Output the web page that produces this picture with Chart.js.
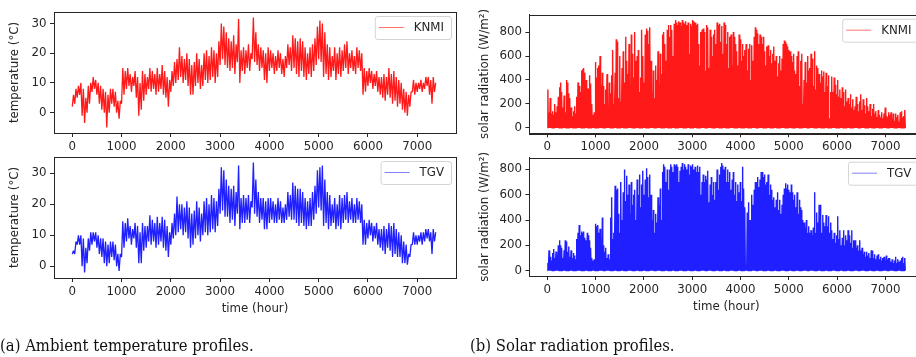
<!DOCTYPE html>
<html>
<head>
<meta charset="utf-8">
<script src="https://cdn.jsdelivr.net/npm/chart.js@4.4.1/dist/chart.umd.min.js"></script>
<style>
  html, body { margin: 0; padding: 0; background: #fff; width: 916px; height: 357px; overflow: hidden; position: relative; }
  canvas.panel { position: absolute; left: 0; top: 0; }
  .cap { position: absolute; top: 336px; font: 16.5px "DejaVu Serif Condensed", "DejaVu Serif", serif; line-height: 20px; color: #111; white-space: nowrap; }
</style>
</head>
<body>
<canvas class="panel" id="tempKnmi" width="940" height="357"></canvas>
<canvas class="panel" id="tempTgv" width="940" height="357"></canvas>
<canvas class="panel" id="solarKnmi" width="940" height="357"></canvas>
<canvas class="panel" id="solarTgv" width="940" height="357"></canvas>
<div class="cap" style="left:0">(a) Ambient temperature profiles.</div>
<div class="cap" style="left:470px">(b) Solar radiation profiles.</div>

<script>
/* Weather profiles: hourly temperature and solar radiation, KNMI vs TGV.
   Values: temperature as low/high per
   50-hour block, solar radiation as the midday peak of each day. */

const HOURS = 7416;          // length of the hourly series
const TEMP_STEP = 50;        // hours per temperature block
const DAY = 24;

const X_TICKS = [0, 1000, 2000, 3000, 4000, 5000, 6000, 7000];
const TEMP_TICKS = [0, 10, 20, 30];
const SOLAR_TICKS = [0, 200, 400, 600, 800];

// ---- temperature (°C), one value per 50 h block ----
const tempKnmiLow = [
  2, 3, 5, 6, -1, -3.5, 0, 3, 7, 8, 6, 3, 1, 0, -5, 0, 3, 2, 0, -2,
  3, 6, 8, 9, 7, 9, 5, -1, 1, 4, 6, 8, 7, 8, 6, 7, 8, 6, 5, 2,
  7, 9, 10, 11, 12, 10, 11, 9, 6, 6, 9, 10, 8, 9, 11, 10, 11, 12, 10, 12,
  16, 18, 16, 15, 14, 15, 13, 17, 10, 14, 13, 15, 14, 18, 17, 16, 14, 15, 11, 10,
  14, 15, 13, 14, 15, 13, 12, 15, 16, 14, 15, 13, 12, 14, 12, 11, 13, 12, 14, 16,
  18, 17, 12, 13, 11, 12, 14, 11, 13, 12, 14, 15, 13, 15, 14, 13, 15, 14, 6, 7,
  9, 10, 8, 9, 7, 6, 5, 4, 6, 5, 3, 4, 2, 3, 1, 0, -1, 2, 7, 6,
  7, 8, 7, 8, 9, 6, 3, 7
];
const tempKnmiHigh = [
  6, 8, 9, 10, 8, 5, 9, 10, 12, 11, 10, 9, 8, 7, 6, 8, 8, 7, 4, 4,
  15, 14, 15, 13, 12, 14, 12, 10, 14, 13, 12, 15, 14, 13, 15, 13, 16, 14, 12, 11,
  14, 17, 18, 22, 19, 18, 20, 18, 16, 17, 20, 18, 16, 20, 21, 19, 22, 21, 20, 24,
  30, 29, 27, 25, 24, 26, 23, 31.5, 21, 22, 21, 23, 20, 32, 27, 23, 22, 21, 20, 22,
  21, 20, 19, 21, 20, 18, 19, 23, 22, 26, 25, 24, 25, 24, 22, 20, 22, 23, 25, 29,
  31, 30, 27, 23, 22, 19, 22, 20, 22, 21, 23, 24, 20, 21, 19, 22, 21, 20, 15, 14,
  15, 14, 13, 14, 12, 12, 13, 12, 15, 13, 14, 12, 11, 10, 8, 7, 6, 7, 11, 10,
  10, 11, 10, 12, 12, 11, 12, 10
];
const tempTgvLow = [
  4, 4, 7, 7, 0, -2, 1, 5, 7, 8, 6, 4, 3, 1, 0, 1, 3, 2, 0, -1.5,
  3, 6, 8, 9, 7, 9, 6, 1, 1, 5, 6, 8, 7, 8, 6, 7, 8, 6, 5, 3,
  7, 9, 10, 11, 12, 10, 11, 9, 6, 7, 9, 10, 8, 10, 11, 10, 11, 12, 11, 13,
  17, 18, 16, 16, 14, 15, 13, 17, 12, 14, 14, 15, 14, 19, 17, 16, 14, 15, 12, 12,
  14, 15, 14, 14, 15, 14, 14, 15, 16, 15, 15, 14, 13, 14, 13, 12, 13, 13, 15, 17,
  19, 18, 13, 14, 12, 13, 14, 12, 13, 12, 14, 15, 14, 15, 14, 14, 15, 14, 7, 7,
  9, 10, 8, 9, 7, 6, 5, 4, 6, 5, 3, 4, 3, 3, 1, 1, 0.5, 3, 7, 7,
  7, 8, 7, 8, 9, 8, 4, 8
];
const tempTgvHigh = [
  5, 8, 10, 10, 9, 6, 9, 11, 11, 11, 10, 9, 9, 8, 7, 8, 8, 7, 4, 4,
  14.5, 14, 15.5, 13, 12, 14, 13, 11, 14, 13, 13, 16.5, 15, 14, 16, 14, 16, 15, 13, 11,
  14, 17, 22.5, 20, 20, 19, 21, 19, 17, 18, 21, 19, 17, 21, 22, 20, 23, 22, 21, 25,
  32, 31, 28, 26, 25, 26, 24, 32.5, 22, 23, 22, 23, 21, 33.5, 28, 24, 22, 22, 21, 22,
  22, 21, 20, 22, 21, 19, 20, 24, 23, 27, 26, 25, 25, 24, 22, 21, 22, 24, 26, 31,
  32, 32.5, 28, 24, 23, 20, 22, 20, 23, 22, 23, 24, 21, 22, 20, 22, 21, 20, 15, 14,
  15, 14, 13, 14, 12, 12, 13, 12, 14, 13, 14, 12, 11, 10, 8, 7, 4, 7, 11, 10,
  10, 11, 11, 12, 12, 11, 12, 11
];

// ---- solar radiation (W/m2), daily peak ----
const solarKnmiPeak = [
  320, 130, 250, 120, 140,  110, 200, 130, 180, 260,  340, 380, 300, 170, 270,  130, 400, 380, 290, 250,
  170, 100, 140, 180, 120,  260, 380, 350, 300, 480,  490, 500, 460, 400, 330,  330, 440, 370, 200, 110,
  130, 550, 420, 500, 520,  600, 360, 460, 350, 200,  320, 450, 150, 380, 290,  440, 650, 200, 460, 740,
  720, 250, 600, 220, 500,  640, 380, 760, 560, 450,  700, 300, 780, 620, 420,  800, 560, 600, 650, 300,
  420, 820, 600, 380, 780,  830, 810, 700, 840, 560,  300, 480, 250, 520, 400,  640, 360, 620, 450, 780,
  800, 700, 560, 820, 860,  760, 860, 820, 600, 870,  900, 880, 860, 890, 880,  850, 900, 880, 870, 890,
  860, 880, 620, 870, 850,  900, 890, 880, 860, 870,  700, 520, 800, 820, 830,  800, 480, 860, 840, 500,
  820, 760, 600, 780, 820,  700, 880, 860, 870, 720,  850, 620, 880, 860, 700,  800, 500, 760, 780, 520,
  800, 760, 700, 640, 520,  780, 740, 560, 700, 600,  650, 700, 480, 660, 700,  400, 690, 560, 760, 840,
  820, 790, 700, 780, 760,  700, 760, 640, 520, 680,  690, 600, 650, 540, 620,  680, 560, 600, 430, 540,
  600, 480, 580, 700, 730,  720, 700, 680, 650, 640,  600, 550, 620, 480, 450,  600, 640, 350, 560, 620,
  200, 400, 550, 380, 600,  480, 500, 620, 580, 350,  640, 320, 520, 500, 450,  380, 480, 430, 470, 300,
  460, 350, 440, 80, 300,   430, 300, 420, 360, 280,  400, 260, 320, 250, 340,  300, 180, 320, 220, 250,
  200, 280, 170, 240, 150,  180, 260, 200, 140, 220,  280, 150, 240, 190, 120,  250, 180, 140, 200, 100,
  160, 200, 120, 140, 90,   150, 110, 90, 130, 80,    120, 170, 100, 90, 130,   110, 130, 80, 120, 60,
  120, 90, 110, 50, 130,    140, 90, 100, 150
];
const solarTgvPeak = [
  60, 160, 110, 80, 140,    170, 100, 150, 120, 200,  240, 200, 180, 100, 160,  240, 230, 150, 190, 110,
  160, 100, 140, 120, 90,   250, 300, 360, 280, 310,  300, 310, 260, 240, 300,  280, 240, 180, 100, 80,
  90, 370, 350, 360, 300,   330, 250, 420, 200, 150,  180, 100, 130, 90, 420,   580, 250, 300, 670, 640,
  650, 450, 300, 700, 400,  620, 800, 550, 750, 600,  680, 450, 700, 520, 600,  640, 400, 720, 600, 760,
  500, 680, 790, 600, 720,  810, 740, 580, 760, 600,  400, 480, 300, 450, 380,  580, 520, 650, 400, 780,
  840, 820, 700, 800, 640,  800, 840, 820, 780, 840,  830, 840, 820, 700, 790,  820, 850, 800, 840, 820,
  800, 840, 760, 830, 820,  840, 800, 820, 780, 830,  780, 820, 600, 700, 760,  700, 750, 720, 790, 540,
  680, 740, 600, 700, 560,  700, 800, 640, 760, 820,  850, 830, 800, 820, 700,  800, 700, 780, 640, 720,
  780, 600, 700, 550, 680,  620, 700, 550, 820, 650,  500, 20, 460, 540, 400,   400, 600, 520, 640, 700,
  700, 740, 660, 720, 780,  780, 740, 760, 680, 700,  760, 600, 680, 640, 560,  580, 500, 560, 620, 480,
  560, 450, 520, 600, 650,  690, 650, 680, 640, 620,  680, 620, 560, 600, 500,  620, 450, 560, 500, 480,
  400, 380, 340, 400, 300,  350, 300, 320, 280, 340,  620, 300, 460, 380, 520,  520, 300, 440, 380, 350,
  440, 350, 430, 300, 380,  320, 250, 300, 220, 280,  430, 250, 320, 200, 260,  320, 200, 280, 240, 320,
  280, 220, 320, 180, 240,  240, 180, 200, 160, 240,  160, 180, 130, 150, 110,  150, 120, 140, 100, 160,
  160, 100, 130, 90, 120,   130, 90, 110, 80, 100,    110, 80, 120, 90, 100,    100, 70, 90, 60, 80,
  110, 60, 90, 70, 80,      100, 110, 60, 100
];

const INK = "#262626";
const FONT = 11.8;
Chart.defaults.font.family = "'DejaVu Sans', sans-serif";
Chart.defaults.font.size = FONT;
Chart.defaults.color = INK;

function tempPoints(lo, hi) {
  const pts = [];
  lo.forEach((v, k) => {
    pts.push({ x: k * TEMP_STEP, y: v });
    pts.push({ x: k * TEMP_STEP + TEMP_STEP / 2, y: hi[k] });
  });
  return pts;
}

// night at zero, one peak around midday
function solarPoints(peaks) {
  const pts = [];
  peaks.forEach((p, d) => {
    pts.push({ x: d * DAY + 4, y: 0 }, { x: d * DAY + 12, y: p }, { x: d * DAY + 20, y: 0 });
  });
  return pts;
}

// matplotlib-style 5% autoscale margin
function limits(pts) {
  const ys = pts.map(p => p.y);
  const lo = Math.min(...ys), hi = Math.max(...ys), pad = (hi - lo) * 0.05;
  return [lo - pad, hi + pad];
}

const framePlugin = {
  id: "frame",
  afterDraw(chart) {
    const { ctx, chartArea: a } = chart;
    ctx.save();
    ctx.strokeStyle = INK;
    ctx.lineWidth = 1;
    ctx.strokeRect(Math.round(a.left) + 0.5, Math.round(a.top) + 0.5,
      Math.round(a.right - a.left), Math.round(a.bottom - a.top));
    ctx.restore();
  },
};

const boxLegend = {
  id: "boxLegend",
  afterDraw(chart, args, opts) {
    const { ctx, chartArea: a } = chart;
    ctx.save();
    ctx.font = `${FONT}px 'DejaVu Sans'`;
    const tw = ctx.measureText(opts.label).width;
    const w = 4 + 25 + 10 + tw + 7, h = 23;
    const x = a.right - 5 - w, y = a.top + 4;
    ctx.beginPath();
    ctx.roundRect(x + 0.5, y + 0.5, w, h, 2.5);
    ctx.fillStyle = "rgba(255,255,255,0.8)";
    ctx.fill();
    ctx.strokeStyle = "#d4d4d4";
    ctx.lineWidth = 1;
    ctx.stroke();
    ctx.beginPath();
    ctx.moveTo(x + 4, y + h / 2);
    ctx.lineTo(x + 29, y + h / 2);
    ctx.strokeStyle = opts.color;
    ctx.lineWidth = 1;
    ctx.stroke();
    ctx.fillStyle = INK;
    ctx.textBaseline = "middle";
    ctx.fillText(opts.label, x + 39, y + h / 2 + 0.5);
    ctx.restore();
  },
};

// p.area = [left, top, right, bottom] of the plot frame in page pixels
function panel(p) {
  const [l, t, r, b] = p.area;
  const W = 940, H = 357;
  const [ymin, ymax] = limits(p.points);
  const titleLH = FONT * 1.2;
  new Chart(document.getElementById(p.id), {
    type: "line",
    data: {
      datasets: [{
        label: p.label,
        data: p.points,
        borderColor: p.color,
        borderWidth: p.width,
        borderJoinStyle: "bevel",
        pointRadius: 0,
        tension: 0,
        fill: false,
      }],
    },
    options: {
      responsive: false,
      animation: false,
      devicePixelRatio: 1,
      events: [],
      layout: { padding: { left: p.boxLeft, top: t, right: W - r, bottom: H - b - p.xAxisH } },
      plugins: {
        legend: { display: false },
        tooltip: { enabled: false },
        boxLegend: { label: p.label, color: p.legendColor },
      },
      scales: {
        x: {
          type: "linear",
          min: -0.05 * HOURS, max: 1.05 * HOURS,
          afterBuildTicks: s => { s.ticks = X_TICKS.map(v => ({ value: v })); },
          afterFit: s => { s.height = p.xAxisH; },
          grid: { drawOnChartArea: false, tickLength: 4, color: INK },
          border: { color: INK },
          ticks: { padding: 3, maxRotation: 0, autoSkip: false, color: INK, callback: v => String(v) },
          title: p.xTitle
            ? { display: true, text: "time (hour)", color: INK,
                padding: { top: 0, bottom: b + p.xAxisH - titleLH / 2 - p.xTitleY } }
            : { display: false },
        },
        y: {
          min: ymin, max: ymax,
          afterBuildTicks: s => { s.ticks = p.yTicks.map(v => ({ value: v })); },
          afterFit: s => { s.width = l - p.boxLeft; },
          grid: { drawOnChartArea: false, tickLength: 4, color: INK },
          border: { color: INK },
          ticks: { padding: 3.5, color: INK, callback: v => String(v) },
          title: { display: true, text: p.yTitle, color: INK,
                   padding: { top: p.yTitleX - p.boxLeft - titleLH / 2, bottom: 0 } },
        },
      },
    },
    plugins: [framePlugin, boxLegend],
  });
}

const RED = "rgba(255,0,0,0.9)", RED_KEY = "rgba(255,0,0,0.55)";
const BLUE = "rgba(0,0,255,0.88)", BLUE_KEY = "rgba(0,0,255,0.5)";

panel({
  id: "tempKnmi", label: "KNMI", color: RED, legendColor: RED_KEY, width: 1.3,
  points: tempPoints(tempKnmiLow, tempKnmiHigh), yTicks: TEMP_TICKS,
  yTitle: "temperature (\u00B0C)", area: [54, 12, 456, 133],
  boxLeft: 0, yTitleX: 15, xAxisH: 24, xTitle: false,
});
panel({
  id: "tempTgv", label: "TGV", color: BLUE, legendColor: BLUE_KEY, width: 1.3,
  points: tempPoints(tempTgvLow, tempTgvHigh), yTicks: TEMP_TICKS,
  yTitle: "temperature (\u00B0C)", area: [54, 157, 456, 278],
  boxLeft: 0, yTitleX: 15, xAxisH: 40, xTitle: true, xTitleY: 309,
});
panel({
  id: "solarKnmi", label: "KNMI", color: RED, legendColor: RED_KEY, width: 1.4,
  points: solarPoints(solarKnmiPeak), yTicks: SOLAR_TICKS,
  yTitle: "solar radiation (W/m\u00B2)", area: [529.4, 14.7, 923.4, 133.3],
  boxLeft: 470, yTitleX: 485, xAxisH: 24, xTitle: false,
});
panel({
  id: "solarTgv", label: "TGV", color: BLUE, legendColor: BLUE_KEY, width: 1.4,
  points: solarPoints(solarTgvPeak), yTicks: SOLAR_TICKS,
  yTitle: "solar radiation (W/m\u00B2)", area: [529.4, 157.7, 923.4, 276],
  boxLeft: 470, yTitleX: 485, xAxisH: 40, xTitle: true, xTitleY: 306.7,
});
</script>
</body>
</html>
